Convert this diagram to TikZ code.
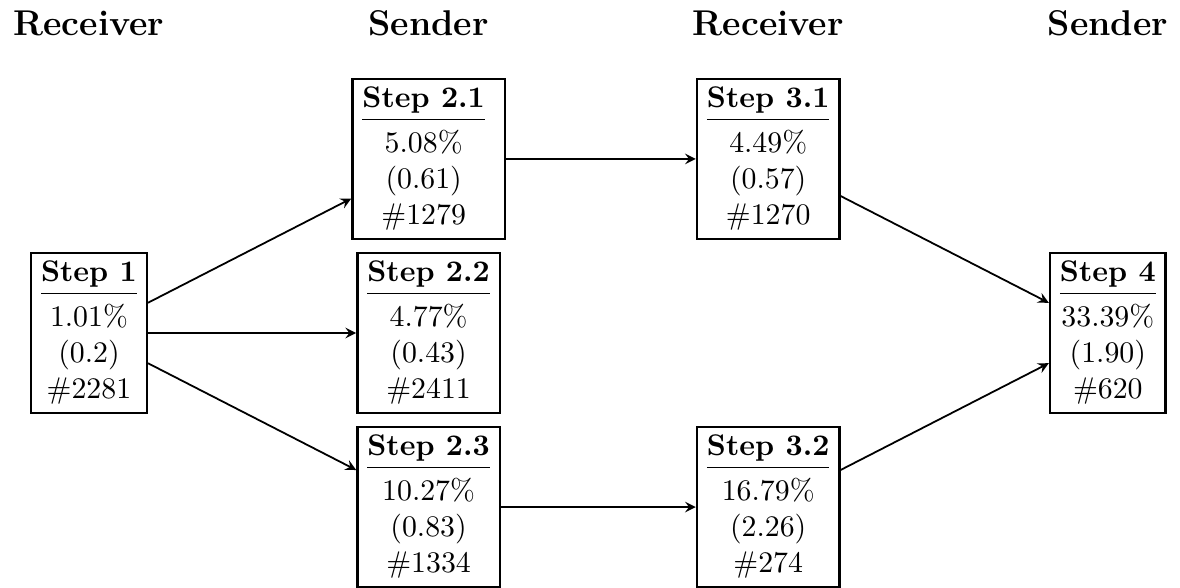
\documentclass[tikz,border=0pt]{standalone}
\usepackage{amsmath,amssymb}
\usepackage{tikz}

\newcommand{\stepcell}[4]{\begin{tabular}{@{}c@{}}\textbf{#1}\\ \hline\noalign{\vskip 2.7pt} #2\\ #3\\ #4\end{tabular}}

\begin{document}
\begin{tikzpicture}[>=stealth]

\tikzstyle{stepbox} = [rectangle, draw, thick, inner ysep=1.3pt]
\tikzstyle{role} = [font=\large\bfseries]

\useasboundingbox (-1.048,3.922) rectangle (12.85,-2.992);

\node[role] (r1) at (0,3.65) {Receiver};
\node[role] (s2) at (4,3.65) {Sender};
\node[role] (r3) at (8,3.65) {Receiver};
\node[role] (s4) at (12,3.65) {Sender};

\node[stepbox] (a) at (0,0) {\stepcell{Step 1}{1.01\%}{(0.2)}{\#2281}};

\node[stepbox] (b) at (4,2.05) {\stepcell{Step 2.1}{5.08\%}{(0.61)}{\#1279}\hspace*{3.3pt}};
\node[stepbox] (c) at (4,0) {\stepcell{Step 2.2}{4.77\%}{(0.43)}{\#2411}};
\node[stepbox] (d) at (4,-2.05) {\stepcell{Step 2.3}{10.27\%}{(0.83)}{\#1334}};

\node[stepbox] (e) at (8,2.05) {\stepcell{Step 3.1}{4.49\%}{(0.57)}{\#1270}};
\node[stepbox] (f) at (8,-2.05) {\stepcell{Step 3.2}{16.79\%}{(2.26)}{\#274}};

\node[stepbox] (g) at (12,0) {\stepcell{Step 4}{33.39\%}{(1.90)}{\#620}};


\draw[->, semithick] (a) -- (b);
\draw[->, semithick] (a) -- (c);
\draw[->, semithick] (a) -- (d);
\draw[->, semithick] (b) -- (e);
\draw[->, semithick] (d) -- (f);

\draw[->, semithick] (e) -- (g);
\draw[->, semithick] (f) -- (g);

\end{tikzpicture}
\end{document}
